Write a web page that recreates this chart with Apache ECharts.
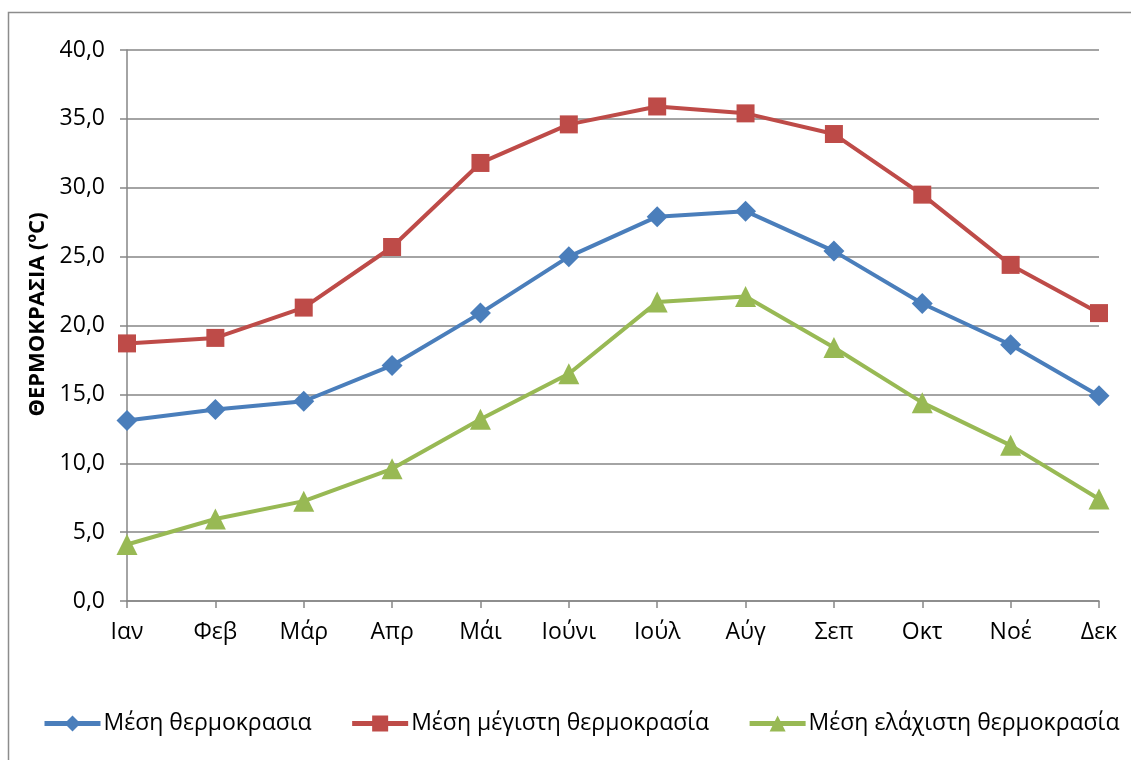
<!DOCTYPE html>
<html>
<head>
<meta charset="utf-8">
<script src="https://cdn.jsdelivr.net/npm/echarts@6/dist/echarts.min.js"></script>
<style>
html, body { margin: 0; padding: 0; background: #fff; }
#chart { width: 1131px; height: 760px; }
</style>
</head>
<body>
<div id="chart"></div>
<script>
const months = ['Ιαν', 'Φεβ', 'Μάρ', 'Απρ', 'Μάι', 'Ιούνι', 'Ιούλ', 'Αύγ', 'Σεπ', 'Οκτ', 'Νοέ', 'Δεκ'];
const meanTemp = [13.1, 13.9, 14.5, 17.1, 20.9, 25.0, 27.9, 28.3, 25.4, 21.6, 18.6, 14.9];
const maxTemp = [18.7, 19.1, 21.3, 25.7, 31.8, 34.6, 35.9, 35.4, 33.9, 29.5, 24.4, 20.9];
const minTemp = [4.1, 5.95, 7.25, 9.6, 13.2, 16.5, 21.7, 22.1, 18.4, 14.4, 11.3, 7.4];
const seriesNames = ['Μέση θερμοκρασια', 'Μέση μέγιστη θερμοκρασία', 'Μέση ελάχιστη θερμοκρασία'];

const font = 'Open Sans';

function lineSeries(name, data, color, symbol, size) {
    return {
        type: 'line',
        name: name,
        data: data,
        symbol: symbol,
        symbolSize: size,
        lineStyle: { color: color, width: 4 },
        itemStyle: { color: color },
        emphasis: { disabled: true }
    };
}

const chart = echarts.init(document.getElementById('chart'));
chart.setOption({
    animation: false,
    textStyle: { fontFamily: font },
    graphic: [{
        type: 'rect',
        shape: { x: 8.5, y: 12.5, width: 1140, height: 800 },
        style: { fill: 'none', stroke: '#8c8c8c', lineWidth: 1.5 },
        silent: true
    }],
    grid: { left: 127, right: 32, top: 50, bottom: 159 },
    legend: {
        bottom: 25,
        left: 42,
        width: 1600,
        padding: 0,
        itemGap: 38,
        itemWidth: 56,
        itemHeight: 20,
        lineStyle: { width: 5 },
        textStyle: { fontSize: 23, color: '#000', fontFamily: font, padding: [0, 0, 0, -2] },
        data: seriesNames
    },
    xAxis: {
        type: 'category',
        data: months,
        boundaryGap: false,
        axisLine: { lineStyle: { color: '#868686', width: 1.5 } },
        axisTick: { show: true, length: 7, lineStyle: { color: '#868686', width: 1.5 } },
        axisLabel: { fontSize: 23, color: '#000', margin: 20 },
        splitLine: { show: false }
    },
    yAxis: {
        type: 'value',
        min: 0,
        max: 40,
        interval: 5,
        name: 'ΘΕΡΜΟΚΡΑΣΙΑ (ºC)',
        nameLocation: 'middle',
        nameGap: 78,
        nameRotate: 90,
        nameTextStyle: { fontSize: 22, fontWeight: 'bold', color: '#000', padding: [0, 0, 0, 22] },
        axisLine: { show: true, lineStyle: { color: '#868686', width: 1.5 } },
        axisTick: { show: true, length: 7, lineStyle: { color: '#868686', width: 1.5 } },
        axisLabel: {
            fontSize: 23,
            color: '#000',
            margin: 22,
            formatter: function (v) { return v.toFixed(1).replace('.', ','); }
        },
        splitLine: { lineStyle: { color: '#868686', width: 1.5 } }
    },
    series: [
        lineSeries(seriesNames[0], meanTemp, '#4a7ebb', 'diamond', 21),
        lineSeries(seriesNames[1], maxTemp, '#be4b48', 'rect', 18),
        lineSeries(seriesNames[2], minTemp, '#98b954', 'triangle', 21)
    ]
});
</script>
</body>
</html>
